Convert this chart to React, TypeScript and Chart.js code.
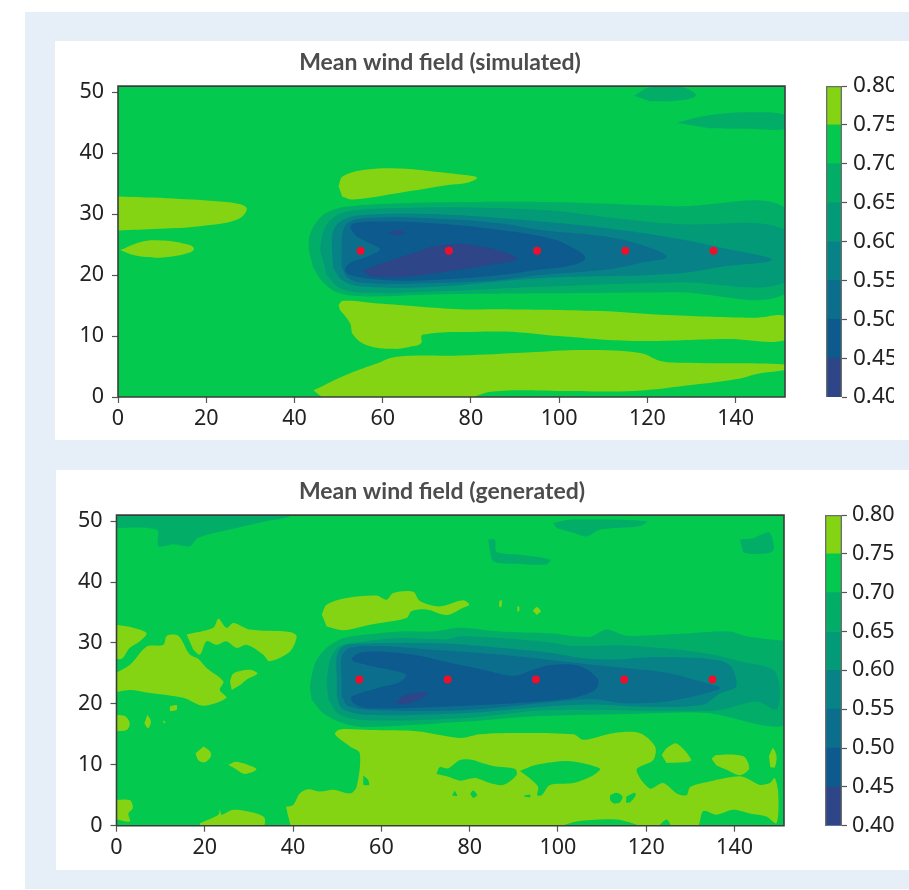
import React, { useEffect, useRef } from "react";
import { Chart, registerables } from "chart.js";

Chart.register(...registerables);

type P = number[][];

const xTicks = [0, 20, 40, 60, 80, 100, 120, 140];
const yTicks = [0, 10, 20, 30, 40, 50];
const barTicks = [0.4, 0.45, 0.5, 0.55, 0.6, 0.65, 0.7, 0.75, 0.8];
const levels = [0.4, 0.45, 0.5, 0.55, 0.6, 0.65, 0.7, 0.75, 0.8];
const bandColors = ["#2e4587", "#0c5a8e", "#0b6e8c", "#078388", "#039a77", "#02ae67", "#04c94f", "#84d414"];
const sensorX = [55, 75, 95, 115, 135];
const sensorY = [24, 24, 24, 24, 24];
const xMax = 151.2;
const yMax = 51;

// ---------- simulated field contours ----------
const simLow1: P = [[117,49.4],[120.6,50.8],[128,50.8],[131,49.4],[126.7,48.6],[120.6,48.5]];
const simLow2: P = [[126.7,45],[134,46.2],[143,46.7],[152,46.1],[152,44.1],[143,44],[134,44.1]];
const simHighA: P = [[-1,32.9],[11,32.6],[22.4,32.1],[27.7,31.6],[29.2,30.8],[27,29.1],[18.6,28],[9.5,27.6],[-1,27.3]];
const simHighB: P = [[0.5,24.1],[5,25.4],[8.8,25.7],[14.8,25.2],[17.2,24.5],[16.3,23.7],[10.2,22.9],[5.7,23],[2.8,23.4]];
const simHighC: P = [[50,34.6],[51,36.2],[56.4,37.3],[64,37.5],[71.5,37],[77.5,36.5],[81.4,36],[79.4,35.2],[75.3,34.8],[64,33.5],[53.3,32.4],[50.8,32.9]];
const simHighD: P = [[50,15.1],[51,15.8],[60,15.3],[77.5,14.4],[86.6,14.4],[109.3,14.1],[123,13.5],[144,13],[152,13.1],[152,9.5],[138,9.5],[116.8,9.2],[100,10],[91,10.6],[82,10.7],[69,10.2],[68.7,8.8],[66,8.2],[62.4,7.9],[56.4,8.5],[53.3,10.2],[52.6,12.1],[50.3,14.3]];
const simHighE: P = [[44.3,1.1],[52.6,3.9],[58.7,5.5],[63.2,6.6],[77.5,6.8],[92.7,7.3],[106.3,7.7],[118.4,7.2],[123,5.9],[129,5.6],[152,5.3],[152,4.6],[145.6,3.9],[140,2.9],[130.4,2],[116.8,1],[100,1],[85,0.9],[77.5,-0.5],[47,-0.5]];
const simBand70: P = [[43.2,24.2],[43.5,26.6],[45.8,29.4],[48.8,30.7],[52.6,31.3],[64,31.8],[79,32],[98,32],[110.8,31.7],[126,31.3],[152,30.7],[152,17.3],[126,17.2],[95.7,17],[71.5,16.8],[56.4,16.5],[50.3,17],[46.6,18.7],[44.3,21.1]];
const simBand65: P = [[45.8,24.2],[46.6,27.2],[48.8,29.4],[52.6,30.5],[64,31],[79,31.1],[98,30.6],[110.8,29.5],[126,28.4],[152,27.2],[152,19],[126,18.8],[95.7,18.1],[71.5,17.3],[56.4,17.1],[50.3,17.9],[47.3,20]];
const simBand60: P = [[48.5,24.2],[48.8,27.2],[51.1,29.1],[56.4,29.9],[71.5,30],[95.7,28.8],[110.8,27.7],[126,26.1],[137.3,24.4],[148.2,22.5],[137.3,21.4],[126,20.2],[95.7,19.5],[71.5,18.1],[56.4,18.1],[51.1,19],[48.8,21.1]];
const simBand55: P = [[50.7,24.2],[51.1,27.4],[52.6,28.8],[57.9,29.4],[71.5,29.3],[86.6,28.5],[95.7,27.4],[110.8,26.3],[118.4,25],[124.4,23],[118.4,22],[110.8,20.9],[95.7,20],[86.6,19.2],[71.5,18.7],[56.4,18.7],[52.2,19.5],[50.7,21.4]];
const simBand50: P = [[52.6,27.7],[53.4,28.5],[60.2,28.8],[71.5,28.5],[86.6,27.4],[98,26],[103.3,24.4],[105.9,22.8],[103.3,21.7],[95.7,20.9],[86.6,20],[71.5,19.2],[60.2,19.2],[52.6,20],[51.5,20.9],[52.6,22],[55.6,22.8],[59.4,24.2],[57.1,25.2],[54.1,26.3]];
const simBand45: P = [[55.3,20.7],[60.2,22],[67.7,23.8],[73,24.9],[80.6,24.9],[90.4,22.8],[83.6,21.6],[71.5,20.3],[64,19.7],[57.5,19.7]];
const simBand45b: P = [[61.3,26.9],[63.2,27.3],[65.1,26.9],[63.2,26.5]];

// ---------- generated field contours ----------
const genLow1: P = [[-1,48.9],[9.1,48.6],[9.5,45.9],[12.9,46.2],[16.6,45.9],[18.5,47.3],[27.2,48.9],[34,50],[39.3,50.8],[39.3,52],[-1,52]];
const genLow2: P = [[98.9,49.7],[103.5,50.3],[120.1,50],[118.6,49.2],[109.5,48.6],[106.5,47.5],[103.5,48.1],[99.7,48.9]];
const genLow3: P = [[84.2,47],[85.7,47],[86.1,45],[91.4,44.5],[98.2,43.7],[97.4,42.9],[90.6,43],[85.4,43.4],[84.6,45.1]];
const genLow4: P = [[141.2,47],[144.2,47.2],[145.7,47.7],[148,48.1],[148.7,45.1],[144.2,44.6],[142,44.8]];
const genHigh1: P = [[46.5,34.7],[47.6,36.3],[52.1,37.4],[58.9,37.8],[61.2,37.1],[62.7,38.2],[67.2,38.4],[68.7,36.9],[73.2,36],[78.5,37],[79.9,36.3],[78.5,35.8],[74.8,34.6],[70.2,35.5],[66.8,35.2],[65.7,34.1],[57.4,33],[51.4,32.1],[47.6,32.7]];
const genHigh2: P = [[-1,33.1],[3.8,32.5],[6.8,31.6],[5.3,30.3],[3,29.2],[1.2,27.4],[-1,27.5]];
const genHigh3: P = [[-1,24.8],[3,26.4],[6.8,29.4],[10.6,29.7],[11.4,31.2],[14,31.2],[16.6,28.1],[18.5,27.4],[20.4,25.9],[24.2,23.7],[23.4,22.3],[24.9,21],[19.7,19.7],[15.1,21],[7.6,21.8],[3,22.3],[-1,21.8]];
const genHigh4: P = [[15.9,31.4],[21.9,32.5],[23.1,34],[24.9,32.5],[26.5,33.3],[30.2,32.2],[39.3,31.8],[40.8,31.1],[39.3,28.6],[34.7,27],[33.2,28.1],[29.5,29.7],[27.2,29.2],[24.9,30.3],[22.7,29.7],[20.4,30.3],[18.9,28.1],[17.4,28.9]];
const genHigh5: P = [[25.7,23.7],[26.5,25],[30.2,25.6],[31.9,25],[29.5,24],[28,23.1],[26.1,22.3]];
const genHigh6: P = [[-1,18.2],[1.9,18],[3,16.8],[2.3,15.7],[-1,15.5]];
const genHigh7: P = [[7,18.2],[7.8,17.1],[7.2,16],[6.3,16.8]];
const genHigh8: P = [[12.1,19.6],[13.6,19.8],[13.6,19],[12.1,18.8]];
const genHigh9: P = [[10.6,17.3],[11.1,17],[10.7,16.8]];
const genHigh10: P = [[19.7,13],[21.2,12.2],[21.4,11.4],[20,10.4],[18.5,10.8],[17.9,11.9]];
const genHigh11: P = [[25.3,10],[27.2,10.5],[31.7,9.3],[29.1,8.5],[26.8,9.4]];
const genHigh12: P = [[-1,4.2],[3,4.2],[3.7,2.9],[2.7,2],[3,0.7],[-1,1.2]];
const genHigh13: P = [[18.9,0.4],[23.1,1.8],[23.4,2.6],[23.8,1.8],[26.5,2.6],[31.7,2],[33.6,1.2],[32.9,-0.5],[18.9,-0.5]];
const genHighMain: P = [[38.4,3.1],[40,3.4],[41.5,5.3],[43.4,6],[46.1,5.6],[49.1,5.9],[52.9,5.3],[54.4,6.4],[55.1,11.9],[52.9,13],[49.5,15],[50.6,15.8],[57.4,15.7],[68,15.5],[77.8,14.4],[82.3,15],[86.9,15.2],[103.5,15],[105.7,14.1],[112.5,15.2],[118.6,15.2],[122,13],[121.6,10.8],[117.8,9.2],[120.8,6.1],[123.8,7],[126.9,5.3],[129.1,5],[130,6.4],[135.2,7.4],[141.2,8.1],[143.5,7.5],[145.7,6.7],[148,7],[149.1,7.8],[149.9,5.3],[149.5,0.4],[147.2,1.5],[143.5,2],[139.7,2.6],[135.9,1.8],[132.9,2.4],[131.5,-0.3],[126.1,-0.3],[124.6,1],[122.3,-0.3],[120.1,-0.3],[113.3,1],[104.2,0.7],[98.9,-0.3],[40,-0.3],[38.9,1.5]];
const genIsland1: P = [[123.5,11.6],[124.6,12.7],[126.9,13.5],[130.2,10.8],[128.4,10.4],[124.6,10.3]];
const genIsland2: P = [[134.8,11],[135.9,11.6],[142,11.4],[143.3,9.4],[141.2,8.3],[138.2,9.2],[135.9,9.9]];
const genIsland3: P = [[147.8,11.4],[148.7,12.7],[149.5,11.4],[149.1,9.6],[148.1,9.6]];
const genSpot1: P = [[86.7,36.8],[87.2,37.1],[87.2,36],[86.7,35.9]];
const genSpot2: P = [[90.8,36],[91.2,36],[91.2,35.2],[90.8,35.2]];
const genSpot3: P = [[94.3,35.3],[95.2,35.9],[96.1,35.2],[95.2,34.6]];
const genHole1: P = [[72.5,8.5],[73.2,9.6],[75.1,9.4],[77.8,10.8],[80.8,10.8],[82.3,10.4],[85.3,9.8],[90.3,9.3],[90.6,8.3],[87.6,6.7],[84.6,7],[81.6,7.8],[79.3,7.6],[77.8,7.4],[74.8,8.1]];
const genHole2: P = [[91.4,9],[95.2,10],[102.7,10.6],[109.5,9.4],[108,8.3],[103.5,7],[98.2,6.7],[96.3,5],[95.3,5],[95.5,6.4],[93.6,7.8]];
const genHole3: P = [[80.1,5.2],[80.8,5.8],[81.7,5],[80.8,4.5]];
const genHole4: P = [[92.3,4.9],[93.6,5.1],[93.8,4.7],[92.5,4.7]];
const genHole5: P = [[111.8,5],[113.3,5.4],[114.6,4.8],[114,3.8],[112.5,3.7],[111.8,4.2]];
const genHole6: P = [[115.5,4.8],[117.4,5.4],[117.6,5],[116.3,3.8],[115.4,3.8]];
const genHole7: P = [[76.6,5.8],[77.2,4.9],[76,4.9]];
const genHole8: P = [[55.9,8.3],[57,7.5],[57.2,6.7],[55.9,6.7]];
const genBand70: P = [[43.8,22.9],[45,26.7],[47.6,29.2],[51.4,30.8],[56.7,31.4],[64.2,31.9],[71.8,31.9],[77.8,32.5],[86.8,31.9],[98.2,31.6],[107.2,31],[111,32.2],[115.5,31.2],[127.6,31.5],[138.9,31.9],[142.7,31.1],[150.6,30.4],[152,30.4],[152,16.8],[133.6,18.5],[118.5,18.4],[95.9,18],[79.3,17.1],[56.7,16.2],[51.4,16.8],[46.8,18.5],[44.2,20.7]];
const genBand65: P = [[47.6,23.4],[48.4,27.3],[50.6,29.5],[56.7,30.3],[64.2,30.8],[74.8,30.6],[77.8,31.1],[86.8,30.8],[98.2,30.1],[103.5,29.5],[114.8,29.6],[126.1,29],[135.1,28.1],[141.2,27],[148.7,25.6],[150.2,22.9],[149.5,19.1],[145,20.4],[136.7,19],[124.6,18.8],[111,19],[95.9,18.9],[79.3,17.7],[56.7,17.3],[50.6,18.2],[48,20.7]];
const genBand60: P = [[49.9,24],[49.9,27.8],[51.4,29.5],[56.7,29.9],[64.2,30],[74.8,29.9],[86.8,29.2],[98.2,28.4],[105.7,27.5],[113.3,27.3],[122.3,27.7],[133.6,27.4],[138.9,26.4],[140.4,22.9],[136.7,21.7],[132.9,19.9],[121.6,19.5],[107.2,19.9],[95.9,19.5],[79.3,18.5],[56.7,18.2],[51,19.3],[49.9,21.5]];
const genBand55: P = [[51,24],[51,27.8],[52.9,29.2],[58.9,29.5],[71.8,28.9],[86.8,28.1],[98.2,27.2],[105.7,26.6],[113.3,26],[124.6,25.1],[132.1,23.7],[136.7,22.6],[132.1,21.5],[124.6,20.4],[115.5,20.1],[107.2,20.8],[95.9,20.1],[79.3,19],[60.4,18.9],[52.5,19.6],[51,21.2]];
const genBand50: P = [[53.3,27.5],[55.1,28.4],[59.7,28.6],[68,28],[74,27],[83.1,25.6],[89.9,24.6],[94.4,25.6],[98.2,26.4],[105,26.2],[109.1,24],[108.4,22.3],[103.4,21],[95.9,20.4],[86.8,20],[71.8,19.5],[56.7,19.3],[53.6,20.2],[53.3,21.2],[59.7,22.7],[64.2,23.6],[65.6,24.8],[61.9,25.6],[56.7,26.4],[53.6,27]];
const genBand45: P = [[63.4,20.4],[65.7,21.5],[70.6,21.9],[69.5,21.1],[66.5,20.2],[64.2,20]];

const C70 = bandColors[6], C75 = bandColors[7], C65 = bandColors[5], C60 = bandColors[4], C55 = bandColors[3], C50 = bandColors[2], C45 = bandColors[1], C40 = bandColors[0];

const simLayers: [P, string][] = [
  [simLow1, C65], [simLow2, C65],
  [simHighA, C75], [simHighB, C75], [simHighC, C75], [simHighD, C75], [simHighE, C75],
  [simBand70, C65], [simBand65, C60], [simBand60, C55], [simBand55, C50], [simBand50, C45], [simBand45, C40], [simBand45b, C40],
];
const genLayers: [P, string][] = [
  [genLow1, C65], [genLow2, C65], [genLow3, C65], [genLow4, C65],
  [genHigh1, C75], [genHigh2, C75], [genHigh3, C75], [genHigh4, C75], [genHigh5, C75], [genHigh6, C75], [genHigh7, C75],
  [genHigh8, C75], [genHigh9, C75], [genHigh10, C75], [genHigh11, C75], [genHigh12, C75], [genHigh13, C75], [genHighMain, C75],
  [genIsland1, C75], [genIsland2, C75], [genIsland3, C75], [genSpot1, C75], [genSpot2, C75], [genSpot3, C75],
  [genHole1, C70], [genHole2, C70], [genHole3, C70], [genHole4, C70], [genHole5, C70], [genHole6, C70], [genHole7, C70], [genHole8, C70],
  [genBand70, C65], [genBand65, C60], [genBand60, C55], [genBand55, C50], [genBand50, C45], [genBand45, C40],
];

const tickFont = { family: "'Noto Sans'", size: 21.5 };
const tickColor = "#222";

function contourChart(canvas: HTMLCanvasElement, title: string, layers: [P, string][], tension: number, g: { yW: number; xH: number; right: number }) {
  const toPts = (a: P) => a.map(([x, y]) => ({ x, y }));
  const datasets: any[] = [];
  const base = { showLine: true, borderWidth: 0, pointRadius: 0, pointHoverRadius: 0 };
  const all = [
    { ...base, data: toPts([[0, 0], [xMax, 0], [xMax, yMax], [0, yMax]]), fill: "shape", backgroundColor: C70, tension: 0 },
    ...layers.map(([p, c]) => ({ ...base, data: toPts(p), fill: "shape", backgroundColor: c, tension })),
    { ...base, data: sensorX.map((x, i) => ({ x, y: sensorY[i] })), showLine: false, pointRadius: 4, pointBackgroundColor: "#ee0f2b", pointBorderWidth: 0 },
    { ...base, data: toPts([[0, 0], [xMax, 0], [xMax, yMax], [0, yMax], [0, 0]]), fill: false, borderColor: "#3a3f3c", borderWidth: 1.6, clip: false, tension: 0 },
  ];
  all.forEach((d, i) => datasets.push({ ...d, order: all.length - i }));
  return new Chart(canvas, {
    type: "scatter",
    data: { datasets },
    options: {
      animation: false,
      responsive: false,
      layout: { padding: 0 },
      plugins: {
        legend: { display: false },
        tooltip: { enabled: false },
        title: {
          display: true,
          text: title,
          color: "#4c4c4c",
          font: { family: "Lato", size: 23, weight: "bold", lineHeight: 1.2 },
          padding: { top: 7.5, bottom: 10 },
        },
      },
      scales: {
        x: {
          type: "linear",
          min: 0,
          max: xMax,
          afterFit: (s: any) => { s.height = g.xH; },
          afterBuildTicks: (s: any) => { s.ticks = xTicks.map((value) => ({ value })); },
          border: { display: false },
          grid: { drawOnChartArea: false, drawTicks: true, tickLength: 6, tickColor: "#555", tickWidth: 1.2 },
          ticks: { font: tickFont, color: tickColor, padding: 3, maxRotation: 0, autoSkip: false },
        },
        y: {
          type: "linear",
          min: 0,
          max: yMax,
          afterFit: (s: any) => { s.width = g.yW; },
          afterBuildTicks: (s: any) => { s.ticks = yTicks.map((value) => ({ value })); },
          border: { display: false },
          grid: { drawOnChartArea: false, drawTicks: true, tickLength: 6, tickColor: "#555", tickWidth: 1.2 },
          ticks: { font: tickFont, color: tickColor, padding: 8, autoSkip: false },
        },
        spacer: {
          type: "linear",
          position: "right",
          afterFit: (s: any) => { s.width = g.right; },
          border: { display: false },
          grid: { display: false, drawTicks: false },
          ticks: { display: false },
        },
      },
    } as any,
  });
}

function colorbarChart(canvas: HTMLCanvasElement, g: { left: number; axis: number; top: number; bottom: number; size: number; pad: number }) {
  const datasets: any[] = bandColors.map((c, i) => ({
    data: [[levels[i], levels[i + 1]]],
    backgroundColor: c,
    borderWidth: 0,
    grouped: false,
    barPercentage: 1,
    categoryPercentage: 1,
  }));
  datasets.unshift({
    data: [[levels[0], levels[8]]],
    backgroundColor: "rgba(0,0,0,0)",
    borderColor: "#6a6f6c",
    borderWidth: 1,
    grouped: false,
    barPercentage: 1,
    categoryPercentage: 1,
  });
  return new Chart(canvas, {
    type: "bar",
    data: { labels: [""], datasets },
    options: {
      animation: false,
      responsive: false,
      layout: { padding: { left: g.left, right: 0, top: g.top, bottom: g.bottom } },
      plugins: { legend: { display: false }, tooltip: { enabled: false }, title: { display: false } },
      scales: {
        x: { display: false },
        y: {
          position: "right",
          min: 0.4,
          max: 0.8,
          afterFit: (s: any) => { s.width = g.axis; },
          afterBuildTicks: (s: any) => { s.ticks = barTicks.map((value) => ({ value })); },
          border: { display: false },
          grid: { drawOnChartArea: false, drawTicks: true, tickLength: 5, tickColor: "#555", tickWidth: 1.2 },
          ticks: { font: { ...tickFont, size: g.size }, color: tickColor, padding: g.pad, autoSkip: false, callback: (v: any) => Number(v).toFixed(2) },
        },
      },
    } as any,
  });
}

const soft: React.CSSProperties = { position: "absolute", filter: "blur(0.55px)" };

export default function App() {
  const a = useRef<HTMLCanvasElement>(null);
  const b = useRef<HTMLCanvasElement>(null);
  const c = useRef<HTMLCanvasElement>(null);
  const d = useRef<HTMLCanvasElement>(null);
  useEffect(() => {
    const charts = [
      contourChart(a.current!, "Mean wind field (simulated)", simLayers, 0.4, { yW: 63, xH: 44, right: 40 }),
      contourChart(b.current!, "Mean wind field (generated)", genLayers, 0.3, { yW: 61.5, xH: 44.3, right: 45 }),
      colorbarChart(c.current!, { left: 6, axis: 52, top: 45, bottom: 44, size: 22.5, pad: 6 }),
      colorbarChart(d.current!, { left: 5, axis: 54, top: 45, bottom: 44.3, size: 21.5, pad: 5 }),
    ];
    return () => charts.forEach((ch) => ch.destroy());
  }, []);
  return (
    <div style={{ position: "absolute", left: 0, top: 0, width: 909, height: 890, overflow: "hidden", background: "#fff" }}>
      <div style={{ position: "absolute", left: 25, top: 12, right: 0, bottom: 1, background: "#e6eff7" }} />
      <div style={{ position: "absolute", left: 55, top: 41, right: 0, height: 399, background: "#fff" }} />
      <div style={{ position: "absolute", left: 56, top: 470, right: 0, height: 400, background: "#fff" }} />
      <canvas ref={a} width={770} height={400} style={{ ...soft, left: 55, top: 41 }} />
      <canvas ref={b} width={774} height={400} style={{ ...soft, left: 55, top: 470 }} />
      <canvas ref={c} width={74} height={400} style={{ position: "absolute", left: 820, top: 41 }} />
      <canvas ref={d} width={76} height={400} style={{ ...soft, left: 820, top: 470 }} />
    </div>
  );
}
